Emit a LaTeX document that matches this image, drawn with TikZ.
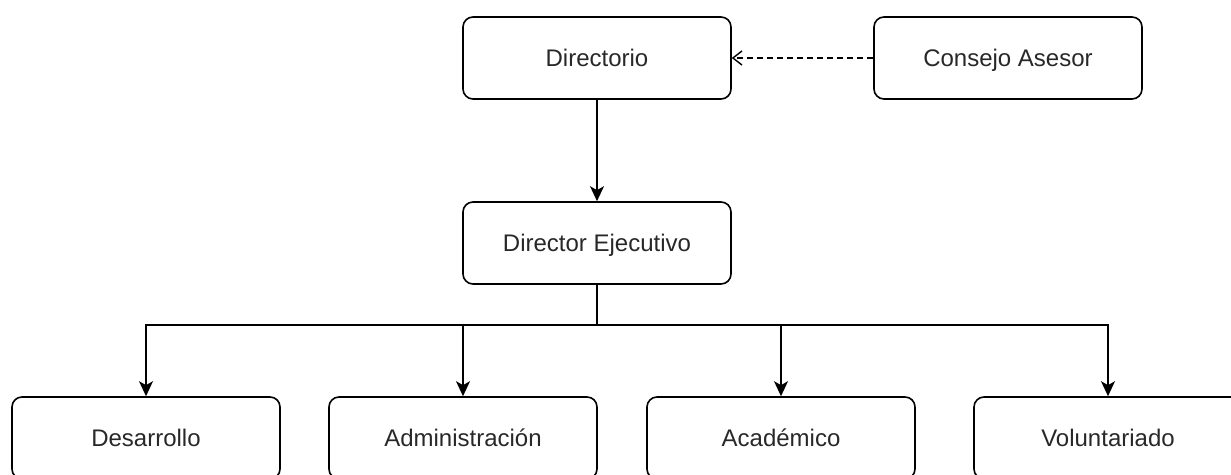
\documentclass[tikz,border=0pt]{standalone}
\usepackage{fontspec}
\setmainfont{Liberation Sans}
\usetikzlibrary{arrows.meta, positioning}
\definecolor{textogris}{RGB}{40, 40, 40}

\begin{document}
\begin{tikzpicture}[x=1pt, y=1pt,
    caja/.style={draw, line width=1.6pt, rounded corners=10pt, minimum width=268pt,
      minimum height=82pt, inner sep=0pt, text=textogris, text height=21pt, text depth=4pt,
      font=\fontsize{24}{28}\selectfont},
    flecha/.style={-{Stealth[length=15pt, width=14pt, inset=4pt]}, line width=1.6pt},
    asesora/.style={-{Straight Barb[length=9pt, width=14pt]}, line width=1.4pt, dash pattern=on 6pt off 4pt}]
    \clip (0,0) rectangle (1231,474);
    \useasboundingbox (0,0) rectangle (1231,474);
    % cabeza
    \node[caja] (dir) at (597,416) {Directorio};
    \node[caja] (consejo) at (1008,416) {Consejo Asesor};
    \node[caja] (dirEj) at (597,231) {Director Ejecutivo};
    % areas
    \node[caja] (des) at (146,36) {Desarrollo};
    \node[caja] (adm) at (463,36) {Administración};
    \node[caja] (aca) at (781,36) {Académico};
    \node[caja] (vol) at (1108,36) {Voluntariado};
    \coordinate (rama) at (597,149);
    \draw[asesora] (consejo) -- (dir);
    \draw[flecha] (dir) -- (dirEj);
    \draw[line width=1.6pt] (dirEj) -- (rama);
    \draw[flecha] (rama) -| (des);
    \draw[flecha] (rama) -| (adm);
    \draw[flecha] (rama) -| (aca);
    \draw[flecha] (rama) -| (vol);
\end{tikzpicture}
\end{document}
